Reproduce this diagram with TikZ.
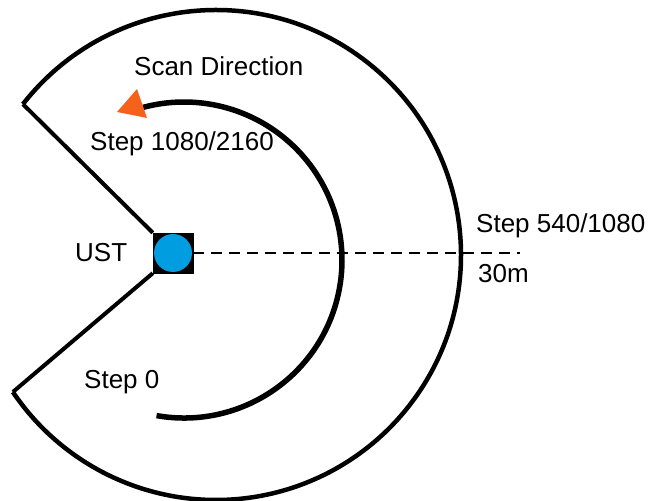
\documentclass[tikz,border=0pt]{standalone}
\usepackage{fontspec}
\setmainfont{Liberation Sans}
\definecolor{ustblue}{RGB}{0,157,224}
\definecolor{scanorange}{RGB}{245,98,28}
\tikzset{
  lbl/.style={anchor=base west, inner sep=0pt, font=\fontsize{26}{31}\selectfont},
  rim/.style={line width=4.5pt},
  wedge/.style={line width=4pt},
  sweep/.style={line width=5.5pt},
  rangeline/.style={line width=2.8pt, dash pattern=on 11pt off 7pt}
}
\begin{document}
\begin{tikzpicture}[x=1pt,y=1pt]
  \useasboundingbox (0,0) rectangle (657,501);

  % sensor: black square with the blue disc
  \node[draw=black, fill=black, minimum size=40pt, inner sep=0pt] (sq) at (173,248) {};
  \node[circle, fill=ustblue, minimum size=38pt, inner sep=0pt] (ust) at (sq.center) {};

  % field of view outline: outer arc and the two edges of the blind wedge
  \coordinate (fovtop) at ({216+245*cos(142)},{246+245*sin(142)});
  \coordinate (fovbot) at ({216+245*cos(214)},{246+245*sin(214)});
  \draw[rim] (fovtop) arc[start angle=142, end angle=-146, radius=245];
  \draw[wedge] (fovtop) -- (sq.north west);
  \draw[wedge] (fovbot) -- (sq.south west);

  % range line out to the scan limit
  \coordinate (rangeend) at (520,248);
  \draw[rangeline] (sq.east) -- (rangeend);

  % scan sweep arc with its arrow head
  \coordinate (sweepstart) at ({184+158*cos(-100)},{241+158*sin(-100)});
  \draw[sweep] (sweepstart) arc[start angle=-100, end angle=105, radius=158] coordinate (sweepend);
  \fill[scanorange] (117,389) -- (137,412) -- (147,383) -- cycle;

  % labels
  \node[lbl] (scan) at (134,425) {Scan Direction};
  \node[lbl] (mid)  at (90,350) {Step 1080/2160};
  \node[lbl] (ustl) at (75,239) {UST};
  \node[lbl] (half) at (476,268) {Step 540/1080};
  \node[lbl] (dist) at (478,218) {30m};
  \node[lbl] (zero) at (84,112) {Step 0};
\end{tikzpicture}
\end{document}
